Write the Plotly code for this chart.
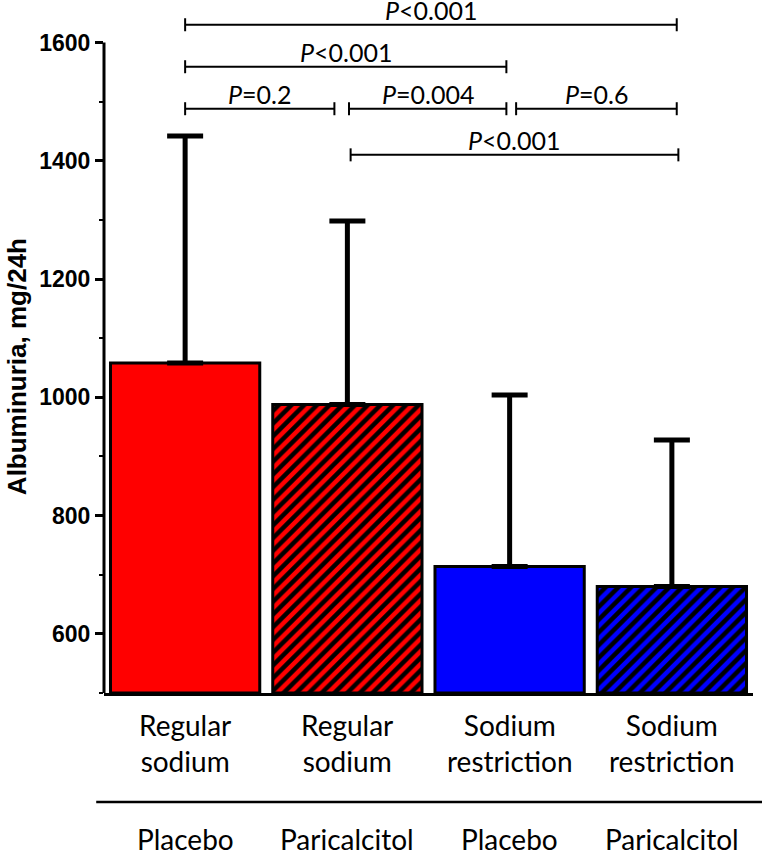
import plotly.graph_objects as go

# ---- data ----
cat_top = ["Regular<br>sodium", "Regular<br>sodium", "Sodium<br>restriction", "Sodium<br>restriction"]
cat_bottom = ["Placebo", "Paricalcitol", "Placebo", "Paricalcitol"]
means = [1058, 988, 714, 680]
upper = [1442, 1298, 1004, 928]
bar_colors = ["#FF0000", "#FF0000", "#0000FF", "#0000FF"]
hatched = [False, True, False, True]

br_start = [0.0, 0.0, 0.0, 1.01, 2.04, 1.02]
br_end = [3.03, 1.98, 0.92, 1.98, 3.03, 3.04]
br_level = [1630, 1559, 1488, 1488, 1488, 1410]
br_label = ["<i>P</i>&lt;0.001", "<i>P</i>&lt;0.001", "<i>P</i>=0.2", "<i>P</i>=0.004", "<i>P</i>=0.6", "<i>P</i>&lt;0.001"]

y_min, y_top_axis, y_max = 500, 1600, 1660

fig = go.Figure()
for i, (m, u, c, h) in enumerate(zip(means, upper, bar_colors, hatched)):
    if h:
        pattern = dict(shape="/", fillmode="replace", fgcolor="black", bgcolor=c,
                       fgopacity=1, size=9, solidity=0.5)
    else:
        pattern = dict(shape="")
    fig.add_trace(go.Bar(
        x=[i], y=[m - y_min], base=y_min, width=0.92,
        marker=dict(color=c, line=dict(color="black", width=3), pattern=pattern),
        error_y=dict(type="data", symmetric=False, array=[u - m], arrayminus=[0],
                     color="black", thickness=5, width=18),
        showlegend=False, hoverinfo="skip",
    ))

TICK = 11  # half-height of bracket end ticks in data units
for s, e, lv in zip(br_start, br_end, br_level):
    fig.add_trace(go.Scatter(
        x=[s, s, None, s, e, None, e, e],
        y=[lv - TICK, lv + TICK, None, lv, lv, None, lv - TICK, lv + TICK],
        mode="lines", line=dict(color="black", width=2),
        showlegend=False, hoverinfo="skip", cliponaxis=False,
    ))

annotations = []
for s, e, lv, lab in zip(br_start, br_end, br_level, br_label):
    annotations.append(dict(x=(s + e) / 2, y=lv, xref="x", yref="y", text=lab,
                            showarrow=False, yanchor="bottom", yshift=-2,
                            font=dict(family="Lato", size=25, color="black")))
for i, (t, b) in enumerate(zip(cat_top, cat_bottom)):
    annotations.append(dict(x=i, y=0, xref="x", yref="paper", text=t, showarrow=False,
                            yanchor="top", yshift=-13,
                            font=dict(family="Lato", size=28, color="black")))
    annotations.append(dict(x=i, y=0, xref="x", yref="paper", text=b, showarrow=False,
                            yanchor="top", yshift=-127,
                            font=dict(family="Lato", size=28, color="black")))
annotations.append(dict(x=0, y=0.475, xref="paper", yref="paper", xshift=-87,
                        text="<b>Albuminuria, mg/24h</b>", textangle=-90, showarrow=False,
                        xanchor="center", yanchor="middle",
                        font=dict(family="Liberation Sans", size=26, color="black")))

shapes = [
    dict(type="line", xref="paper", yref="y", x0=0, x1=0, y0=y_min, y1=y_top_axis,
         line=dict(color="black", width=3)),
    dict(type="line", xref="paper", yref="paper", x0=-0.012, x1=1.02, y0=-0.159, y1=-0.159,
         line=dict(color="black", width=2.5)),
]

fig.update_layout(
    width=762, height=851,
    margin=dict(l=104, r=9, t=7, b=158),
    plot_bgcolor="white", paper_bgcolor="white",
    barmode="overlay",
    xaxis=dict(range=[-0.5, 3.5], showline=True, linecolor="black", linewidth=3,
               showticklabels=False, ticks="", showgrid=False, zeroline=False),
    yaxis=dict(range=[y_min, y_max], showline=False, showgrid=False, zeroline=False,
               tickmode="linear", tick0=600, dtick=200, ticks="outside", ticklen=8,
               tickwidth=3, tickcolor="black",
               tickfont=dict(family="Liberation Sans", size=23, color="black", weight="bold"),
               minor=dict(tickmode="linear", tick0=500, dtick=100, ticks="outside",
                          ticklen=4, tickwidth=2, tickcolor="black", showgrid=False)),
    annotations=annotations, shapes=shapes,
)

fig.write_html("out.html", config={"displayModeBar": False},
               post_script="document.body.style.margin='0';")
